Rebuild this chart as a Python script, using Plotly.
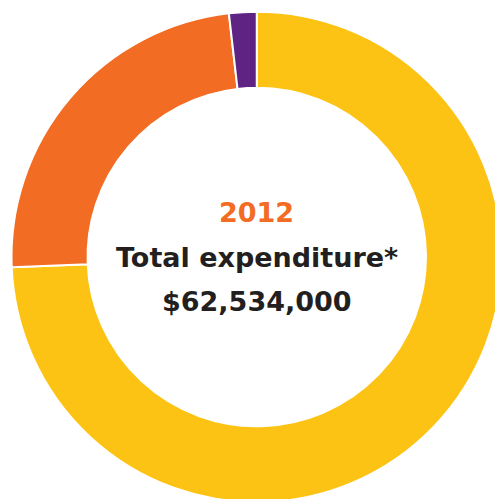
import plotly.graph_objects as go

# slices, clockwise from 12 o'clock
segments = ["Segment A", "Segment B", "Segment C"]
amounts = [46_480_000, 14_920_000, 1_134_000]
colors = ["#FCC315", "#F26C23", "#5F2483"]

year_label = "2012"
title_label = "Total expenditure*"
total_label = "$62,534,000"

W, H = 502, 503
cx, cy = 256.5, 257  # pixel centre of the donut (from top-left)

fig = go.Figure()
fig.add_trace(go.Pie(
    labels=segments,
    values=amounts,
    hole=0.69,
    sort=False,
    direction="clockwise",
    rotation=0,
    textinfo="none",
    marker=dict(colors=colors, line=dict(color="white", width=2)),
    domain=dict(x=[11.5 / W, 1], y=[0, 1 - 11 / H]),
    showlegend=False,
))

# centre text
lines = [
    (year_label, 212, "#F26C23"),
    (title_label, 257, "#231F20"),
    (total_label, 301, "#231F20"),
]
for txt, ypix, col in lines:
    fig.add_annotation(
        x=cx / W, y=1 - ypix / H, xref="paper", yref="paper",
        text="<b>" + txt + "</b>", showarrow=False,
        font=dict(family="DejaVu Sans, sans-serif", size=27, color=col),
        xanchor="center", yanchor="middle",
    )

fig.update_layout(
    width=W, height=H,
    margin=dict(l=0, r=0, t=0, b=0),
    paper_bgcolor="white",
    plot_bgcolor="white",
)

fig.write_html(
    "out.html",
    config={"displayModeBar": False},
    post_script="document.body.style.margin='0';"
                "document.body.style.overflow='hidden';"
                "document.documentElement.style.overflow='hidden';",
)
